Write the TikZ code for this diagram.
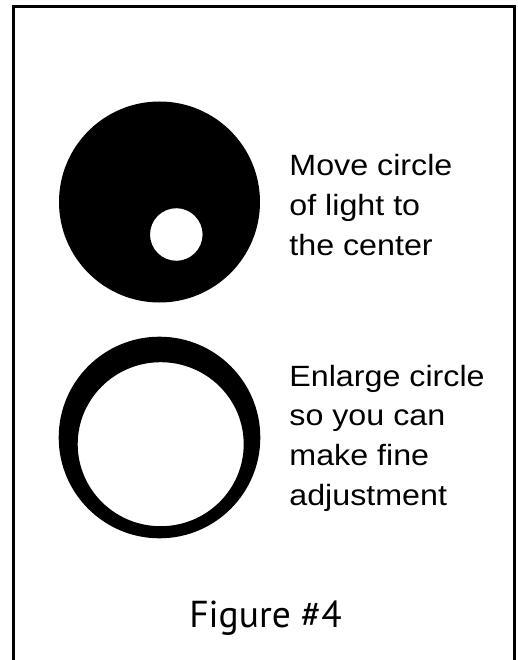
\documentclass[tikz,border=0pt]{standalone}
\usepackage{fontspec}
\setmainfont{Liberation Sans}
\newfontfamily\labfont[FakeStretch=1.10]{Liberation Sans}
\newfontfamily\figfont{PT Sans}
\begin{document}
\begin{tikzpicture}[x=1pt,y=-1pt,
  labeltext/.style={font=\labfont\fontsize{29.3}{39.5}\selectfont, inner sep=0pt, anchor=base west},
  captiontext/.style={font=\figfont\fontsize{37.5}{44}\selectfont, inner sep=0pt, anchor=base}]
\useasboundingbox (0,0) rectangle (517,660);
% frame (open at bottom)
\draw[line width=3pt] (13.5,662) -- (13.5,6.7) -- (514.5,6.7) -- (514.5,662);
% top figure: black disk with off-centre light spot
\fill[black, even odd rule] (159.5,202) circle (100.5) (176.3,234.5) circle (26.3);
% bottom figure: thick ring with off-centre opening
\fill[black, even odd rule] (159.5,437.5) circle (100.8) (160.7,444.2) ellipse (83 and 82);
% labels
\node[labeltext] (t1a) at (289.2,176) {Move circle};
\node[labeltext] (t1b) at (289.2,215.5) {of light to};
\node[labeltext] (t1c) at (289.2,255) {the center};
\node[labeltext] (t2a) at (289.2,386) {Enlarge circle};
\node[labeltext] (t2b) at (289.2,425.7) {so you can};
\node[labeltext] (t2c) at (289.2,465.4) {make fine};
\node[labeltext] (t2d) at (289.2,505) {adjustment};
\node[captiontext] (cap) at (265.5,627.7) {Figure \#4};
\end{tikzpicture}
\end{document}
